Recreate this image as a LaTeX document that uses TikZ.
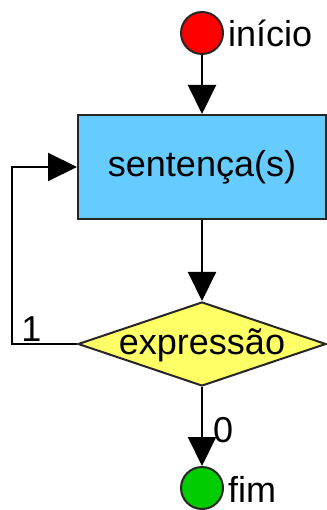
\documentclass[tikz,border=0pt]{standalone}
\usepackage{fontspec}
\setmainfont{Liberation Sans}
\usetikzlibrary{shapes.geometric,arrows.meta}

\definecolor{startred}{RGB}{255,0,0}
\definecolor{endgreen}{RGB}{0,204,0}
\definecolor{boxblue}{RGB}{102,204,255}
\definecolor{condyellow}{RGB}{255,255,102}

\begin{document}
\begin{tikzpicture}[x=1pt,y=-1pt,
    every node/.style={font=\fontsize{36}{40}\selectfont},
    flow/.style={draw=black,line width=2pt,-{Triangle[length=29pt,width=28pt]}},
    terminal/.style={circle,draw=black!85,line width=2pt,minimum size=42pt,inner sep=0pt},
    stmtbox/.style={rectangle,draw=black!85,line width=2pt,fill=boxblue,
      minimum width=248pt,minimum height=104pt},
    testbox/.style={diamond,draw=black!85,line width=2pt,fill=condyellow,aspect=3,
      minimum width=248pt,minimum height=84pt,inner sep=0pt,text height=20pt,text depth=0pt},
    lbl/.style={inner sep=2pt}]
  \useasboundingbox (0,0) rectangle (326,510);
  % nodes
  \node[terminal,fill=startred,label={[lbl,label distance=2pt]right:início}] (start) at (202,33) {};
  \node[stmtbox] (stmt) at (202,167) {sentença(s)};
  \node[testbox] (test) at (202,344) {expressão};
  \node[terminal,fill=endgreen,label={[lbl,label distance=2pt,yshift=-1pt]right:fim}] (stop) at (202,488) {};
  \coordinate (back) at (12,344);
  % connectors
  \draw[flow] (start) -- (stmt);
  \draw[flow] (stmt) -- (test);
  \draw[flow] (test.west) -- node[lbl,pos=0.7,above]{1} (back) |- (stmt.west);
  \draw[flow] (test) -- node[lbl,pos=0.55,right=8pt]{0} (stop);
\end{tikzpicture}
\end{document}
